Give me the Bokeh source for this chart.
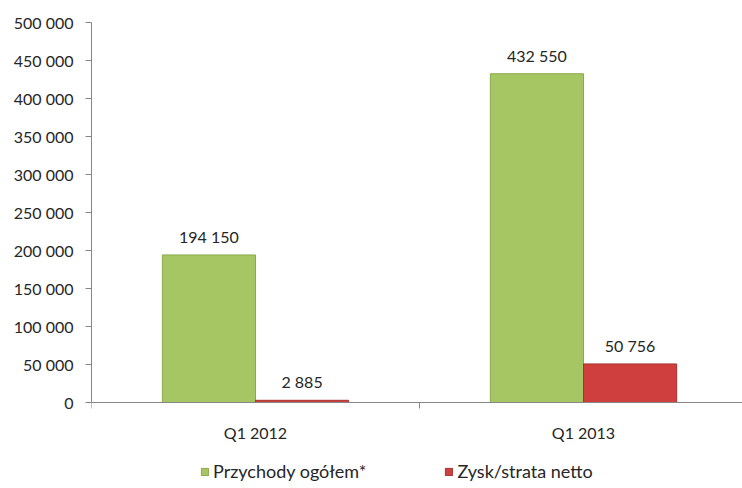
from bokeh.plotting import figure
from bokeh.models import (Range1d, FixedTicker, ColumnDataSource, Legend, LegendItem, Span)
from bokeh.core.properties import value
from bokeh.embed import file_html
from bokeh.resources import INLINE

categories = ["Q1 2012", "Q1 2013"]
revenue = [194150, 432550]
profit = [2885, 50756]
series_names = ["Przychody ogółem*", "Zysk/strata netto"]
y_ticks = [0, 50000, 100000, 150000, 200000, 250000, 300000, 350000, 400000, 450000, 500000]
y_tick_labels = ["0", "50 000", "100 000", "150 000", "200 000", "250 000", "300 000",
                 "350 000", "400 000", "450 000", "500 000"]

FONT = "Lato"
TXT = "#262626"
AX = "#868686"
GREEN = "#A5C663"
RED = "#CE3F3D"

def fmt(v):
    return f"{v:,}".replace(",", " ")

# layout (pixels)
W, H = 742, 488
LEFT, TOP = 91, 22
PLOT_H = 380          # pixels from 0 to y max
CAT_W = 328           # pixels per category
YMAX = y_ticks[-1]
units_per_px = YMAX / PLOT_H
frame_h = H - TOP
ymin = -(frame_h - PLOT_H) * units_per_px

centers = [i + 0.5 for i in range(len(categories))]
bounds = [float(i) for i in range(len(categories) + 1)]
bw = 0.284
green_x = [c - bw / 2 for c in centers]
red_x = [c + bw / 2 for c in centers]

p = figure(width=W, height=H, output_backend="svg", toolbar_location=None,
           x_range=Range1d(0, (W - LEFT) / CAT_W), y_range=Range1d(ymin, YMAX),
           x_axis_location=None,
           min_border_left=LEFT, min_border_right=0, min_border_top=TOP, min_border_bottom=0)
p.outline_line_color = None
p.grid.grid_line_color = None
p.background_fill_color = "white"
p.border_fill_color = "white"

src_g = ColumnDataSource(dict(x=green_x, top=revenue, lab=[fmt(v) for v in revenue]))
src_r = ColumnDataSource(dict(x=red_x, top=profit, lab=[fmt(v) for v in profit]))

rg = p.vbar(x="x", top="top", bottom=0, width=bw, source=src_g,
            fill_color=GREEN, line_color="#8AAA4A", line_width=1)
rr = p.vbar(x="x", top="top", bottom=0, width=bw, source=src_r,
            fill_color=RED, line_color="#A83230", line_width=1)

for src in (src_g, src_r):
    p.text(x="x", y="top", text="lab", source=src, text_align="center",
           text_baseline="bottom", y_offset=-9, text_font=value(FONT),
           text_font_size="16px", text_color=TXT)

# x axis (drawn at y = 0)
p.add_layout(Span(location=0, dimension="width", line_color=AX, line_width=1))
tick_len = 6 * units_per_px
p.segment(x0=bounds, y0=[0] * len(bounds), x1=bounds, y1=[-tick_len] * len(bounds),
          line_color=AX, line_width=1)
p.text(x=centers, y=[0] * len(centers), text=categories, text_align="center",
       text_baseline="middle", y_offset=30, text_font=value(FONT),
       text_font_size="16px", text_color=TXT)

# y axis
ya = p.yaxis[0]
ya.ticker = FixedTicker(ticks=y_ticks)
ya.bounds = (0, YMAX)
ya.major_label_overrides = {t: l for t, l in zip(y_ticks, y_tick_labels)}
ya.axis_line_color = AX
ya.major_tick_line_color = AX
ya.major_tick_out = 6
ya.major_tick_in = 0
ya.minor_tick_line_color = None
ya.major_label_standoff = 12
ya.major_label_text_font = FONT
ya.major_label_text_font_size = "16px"
ya.major_label_text_color = TXT

legend = Legend(items=[LegendItem(label=series_names[0], renderers=[rg]),
                       LegendItem(label=series_names[1], renderers=[rr])],
                orientation="horizontal", location=(109, 6),
                label_text_font=FONT, label_text_font_size="18px", label_text_color=TXT,
                glyph_width=9, glyph_height=9, label_standoff=4, spacing=78,
                border_line_color=None, background_fill_alpha=0, padding=0, margin=0)
p.add_layout(legend, "center")

open("out.html", "w").write(file_html(p, INLINE))
